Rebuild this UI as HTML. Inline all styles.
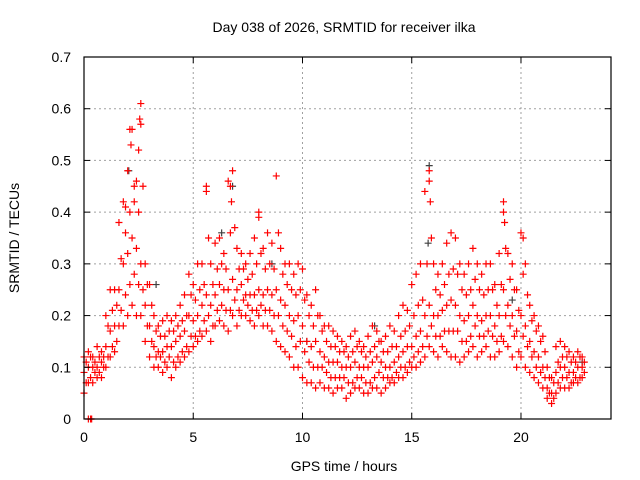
<!DOCTYPE html>
<html><head><meta charset="utf-8"><style>
body{margin:0;background:#fff}
svg{display:block;font-family:"Liberation Sans",sans-serif}
</style></head><body>
<svg id="chart" width="640" height="480">
<text x="344" y="32" text-anchor="middle" font-size="14">Day 038 of 2026, SRMTID for receiver ilka</text>
<text x="344" y="471" text-anchor="middle" font-size="14">GPS time / hours</text>
<text transform="translate(19,238) rotate(-90)" text-anchor="middle" font-size="14">SRMTID / TECUs</text>
<g id="grid"></g><g id="marks"></g><g id="axes"></g>
</svg>
<script>
const times=[0,0.2,0.4,0.6,0.8,1,1.2,1.4,1.6,1.8,2,2.2,2.4,2.6,2.8,3,3.2,3.4,3.6,3.8,4,4.2,4.4,4.6,4.8,5,5.2,5.4,5.6,5.8,6,6.2,6.4,6.6,6.8,7,7.2,7.4,7.6,7.8,8,8.2,8.4,8.6,8.8,9,9.2,9.4,9.6,9.8,10,10.2,10.4,10.6,10.8,11,11.2,11.4,11.6,11.8,12,12.2,12.4,12.6,12.8,13,13.2,13.4,13.6,13.8,14,14.2,14.4,14.6,14.8,15,15.2,15.4,15.6,15.8,16,16.2,16.4,16.6,16.8,17,17.2,17.4,17.6,17.8,18,18.2,18.4,18.6,18.8,19,19.2,19.4,19.6,19.8,20,20.2,20.4,20.6,20.8,21,21.2,21.4,21.6,21.8,22,22.2,22.4,22.6,22.8];
const times2=[0.1,0.3,0.5,0.7,0.9,1.1,1.3,1.5,1.7,1.9,2.1,2.3,2.5,2.7,2.9,3.1,3.3,3.5,3.7,3.9,4.1,4.3,4.5,4.7,4.9,5.1,5.3,5.5,5.7,5.9,6.1,6.3,6.5,6.7,6.9,7.1,7.3,7.5,7.7,7.9,8.1,8.3,8.5,8.7,8.9,9.1,9.3,9.5,9.7,9.9,10.1,10.3,10.5,10.7,10.9,11.1,11.3,11.5,11.7,11.9,12.1,12.3,12.5,12.7,12.9,13.1,13.3,13.5,13.7,13.9,14.1,14.3,14.5,14.7,14.9,15.1,15.3,15.5,15.7,15.9,16.1,16.3,16.5,16.7,16.9,17.1,17.3,17.5,17.7,17.9,18.1,18.3,18.5,18.7,18.9,19.1,19.3,19.5,19.7,19.9,20.1,20.3,20.5,20.7,20.9,21.1,21.3,21.5,21.7,21.9,22.1,22.3,22.5,22.7,22.9];
const hiValues=[.12,.13,.12,.14,.13,.2,.25,.25,.38,.42,.48,.56,.46,.61,.3,.26,.2,.18,.19,.2,.19,.2,.22,.24,.28,.26,.3,.3,.45,.3,.34,.35,.32,.46,.48,.33,.32,.3,.32,.35,.4,.33,.36,.34,.47,.33,.3,.3,.28,.3,.29,.24,.22,.25,.2,.18,.18,.17,.16,.15,.14,.16,.17,.15,.14,.16,.18,.17,.15,.16,.18,.17,.2,.22,.21,.26,.28,.3,.44,.48,.3,.28,.3,.34,.36,.35,.3,.28,.3,.33,.3,.28,.3,.3,.26,.32,.42,.32,.3,.25,.36,.3,.22,.2,.18,.16,.1,.08,.14,.15,.14,.13,.12,.13,.12];
const upperMidValues=[.11,.12,.11,.12,.12,.18,.21,.22,.31,.36,.4,.42,.4,.45,.26,.22,.17,.16,.16,.17,.17,.18,.19,.2,.24,.23,.25,.26,.35,.26,.29,.3,.29,.36,.37,.29,.29,.27,.28,.3,.32,.29,.3,.29,.36,.28,.26,.25,.24,.25,.23,.2,.18,.2,.17,.15,.14,.14,.13,.13,.12,.13,.14,.13,.12,.13,.14,.15,.13,.13,.14,.14,.16,.17,.18,.2,.22,.23,.3,.35,.25,.24,.26,.28,.29,.28,.25,.24,.25,.27,.25,.24,.25,.25,.22,.26,.33,.27,.25,.21,.28,.24,.19,.17,.15,.13,.08,.07,.11,.12,.12,.11,.11,.12,.11];
const midValues=[.09,.1,.1,.1,.11,.14,.17,.18,.25,.3,.32,.35,.33,.3,.22,.18,.14,.13,.13,.14,.14,.15,.16,.17,.2,.19,.2,.22,.24,.22,.24,.26,.25,.25,.27,.25,.26,.24,.24,.24,.25,.24,.25,.24,.25,.23,.22,.2,.19,.2,.18,.15,.14,.15,.13,.12,.11,.11,.11,.1,.1,.1,.11,.1,.1,.1,.11,.12,.11,.1,.1,.11,.12,.13,.14,.14,.16,.17,.2,.22,.2,.2,.21,.22,.23,.22,.2,.19,.2,.22,.2,.19,.2,.2,.18,.2,.25,.22,.2,.17,.2,.18,.15,.13,.12,.1,.06,.05,.09,.1,.1,.09,.09,.1,.1];
const lowerMidValues=[.07,.08,.09,.09,.1,.12,.14,.15,.21,.24,.26,.28,.26,.25,.18,.15,.12,.12,.11,.12,.11,.12,.13,.14,.16,.16,.17,.19,.2,.18,.21,.22,.21,.21,.23,.21,.23,.22,.21,.21,.22,.21,.21,.2,.2,.18,.17,.16,.14,.15,.13,.11,.1,.1,.1,.09,.08,.08,.08,.08,.07,.07,.08,.08,.07,.07,.08,.09,.08,.08,.08,.09,.1,.1,.11,.12,.13,.14,.16,.18,.16,.16,.17,.17,.17,.17,.15,.15,.16,.18,.16,.16,.17,.16,.15,.16,.2,.18,.16,.13,.16,.14,.12,.1,.09,.08,.05,.04,.07,.08,.08,.07,.08,.08,.09];
const loValues=[.05,.07,.07,.08,.08,.1,.12,.13,.18,.18,.2,.22,.2,.2,.15,.12,.1,.1,.09,.1,.08,.1,.11,.12,.13,.14,.15,.16,.17,.15,.18,.19,.18,.17,.2,.18,.2,.2,.19,.18,.2,.18,.18,.17,.15,.14,.13,.12,.1,.1,.08,.07,.07,.06,.07,.06,.06,.05,.06,.06,.04,.05,.06,.06,.05,.05,.06,.06,.05,.06,.07,.07,.08,.08,.09,.1,.1,.11,.12,.14,.13,.12,.14,.13,.12,.12,.11,.12,.13,.14,.12,.13,.14,.12,.12,.13,.15,.14,.12,.1,.12,.1,.09,.08,.07,.06,.04,.03,.05,.06,.06,.06,.07,.07,.08];
const extraTimes=[0.2,0.3,0.35,2.5,2.55,2.6,2.1,2.15,5.6,6.7,6.75,15.8,15.85,19.2,19.25,20.1,8.0,1.9,2.3];
const extraValues=[0,0,0,.52,.58,.57,.56,.53,.44,.45,.42,.46,.42,.4,.38,.35,.39,.41,.45];
const grayTimes=[2.05,6.3,6.8,15.75,15.8,19.6,13.3,8.6,3.3,10.2,22.8];
const grayValues=[.48,.36,.45,.34,.49,.23,.18,.3,.26,.15,.11];
const xTicks=[0,5,10,15,20];
const yTicks=[0,0.1,0.2,0.3,0.4,0.5,0.6,0.7];
const yTickLabels=["0","0.1","0.2","0.3","0.4","0.5","0.6","0.7"];

const L=84,R=611,T=57,B=419,XMAX=24.12,YMAX=0.7;
const xs=v=>L+(R-L)*v/XMAX, ys=v=>B-(B-T)*v/YMAX;
const NS="http://www.w3.org/2000/svg";
function mk(tag,attrs,parent){const e=document.createElementNS(NS,tag);for(const k in attrs)e.setAttribute(k,attrs[k]);parent.appendChild(e);return e;}
const grid=document.getElementById('grid'),marks=document.getElementById('marks'),axes=document.getElementById('axes');
xTicks.forEach(t=>{
  const x=xs(t);
  if(t>0){const g=mk('line',{x1:x,x2:x,y1:T,y2:B,stroke:'#a0a0a0','stroke-dasharray':'2,3'},grid);
  
  }
  mk('line',{x1:x,x2:x,y1:B,y2:B-6,stroke:'#000'},axes);
  mk('line',{x1:x,x2:x,y1:T,y2:T+6,stroke:'#000'},axes);
  const lb=mk('text',{x:x,y:B+23,'text-anchor':'middle','font-size':14},axes);lb.textContent=t;
  
  
});
yTicks.forEach((t,i)=>{
  const y=ys(t);
  if(t>0&&t<YMAX){const g=mk('line',{x1:L,x2:R,y1:y,y2:y,stroke:'#a0a0a0','stroke-dasharray':'2,3'},grid);
  
  }
  mk('line',{x1:L,x2:L+6,y1:y,y2:y,stroke:'#000'},axes);
  mk('line',{x1:R,x2:R-6,y1:y,y2:y,stroke:'#000'},axes);
  const lb=mk('text',{x:L-13,y:y+5,'text-anchor':'end','font-size':14},axes);lb.textContent=yTickLabels[i];
  
  
});
const fr=mk('rect',{x:L,y:T,width:R-L,height:B-T,fill:'none',stroke:'#000','stroke-width':1.2},axes);


function plus(t,v,color){
  const x=xs(t),y=ys(v);
  const p=mk('path',{d:`M${x-3.5},${y}H${x+3.5}M${x},${y-3.5}V${y+3.5}`,stroke:color,'stroke-width':1.2,fill:'none'},marks);
  
  
}
grayTimes.forEach((t,i)=>plus(t,grayValues[i],'#404040'));
[hiValues,midValues,loValues].forEach(arr=>times.forEach((t,i)=>{if(i<arr.length)plus(t,arr[i],'#ff0000');}));
[upperMidValues,lowerMidValues].forEach(arr=>times2.forEach((t,i)=>{if(i<arr.length)plus(t,arr[i],'#ff0000');}));
extraTimes.forEach((t,i)=>plus(t,extraValues[i],'#ff0000'));
</script>
</body></html>
